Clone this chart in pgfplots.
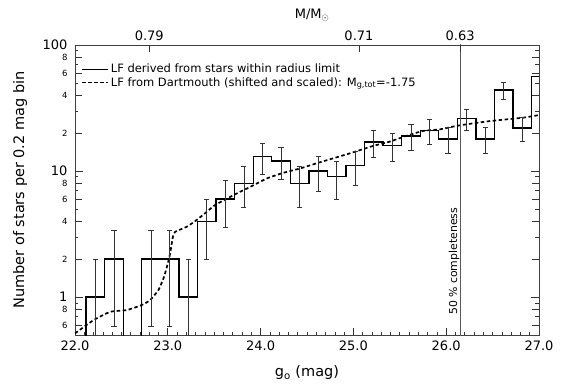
\documentclass[border=0pt]{standalone}
\usepackage{pgfplots}
\pgfplotsset{compat=1.18}
\usepackage{fontspec}
\setmainfont{DejaVu Sans}
\newcommand{\bg}{\fontsize{13}{15}\selectfont}
\newcommand{\sm}{\fontsize{8.5}{9}\selectfont}
\begin{document}
\begin{tikzpicture}
\useasboundingbox (-75pt,-54pt) rectangle (496pt,335pt);
\begin{axis}[
  at={(0,0)}, anchor=south west,
  scale only axis, width=464pt, height=290pt,
  xmin=22, xmax=27, ymin=0.5, ymax=100,
  ymode=log,
  axis line style={black!75, line width=0.8pt},
  tick align=inside,
  xtick pos=bottom,
  xtick={22,23,24,25,26,27},
  xticklabels={22.0,23.0,24.0,25.0,26.0,27.0},
  minor x tick num=9,
  major tick length=7pt, minor tick length=3.5pt,
  every tick/.style={black!80, line width=0.6pt},
  ytick={0.6,0.8,1,2,4,6,8,10,20,40,60,80,100},
  yticklabels={\sm 6,\sm 8,\bg 1,\sm 2,\sm 4,\sm 6,\sm 8,\bg 10,\sm 2,\sm 4,\sm 6,\sm 8,\bg 100},
  minor ytick={0.7,0.9,3,5,7,9,30,50,70,90},
  extra y ticks={1,10,100}, extra y tick labels={},
  extra y tick style={major tick length=8pt},
  /pgf/number format/assume math mode=true,
  tick label style={font=\bg},
  yticklabel style={xshift=-4pt},
  xticklabel style={yshift=-2pt},
  xlabel={g\textsubscript{o} (mag)},
  ylabel={Number of stars per 0.2 mag bin},
  label style={font=\fontsize{14.5}{16}\selectfont},
  xlabel style={at={(axis description cs:0.5,-0.131)}, anchor=center},
  ylabel style={at={(axis description cs:-0.1185,0.5)}, anchor=center},
  legend style={at={(0,1)}, anchor=north west, xshift=4pt, yshift=-15pt,
    draw=none, fill=none, font=\fontsize{11.5}{13}\selectfont,
    row sep=-1pt, inner sep=2pt},
  legend cell align=left,
  legend image code/.code={\draw[#1] (0pt,0pt) -- (26pt,0pt);},
]
% histogram (left bin edges)
\addplot[const plot, black, line width=1.3pt] coordinates {
(21.92,0.01) (22.12,1) (22.32,2) (22.52,0.01) (22.72,2) (22.92,2) (23.12,1)
(23.32,4) (23.52,6) (23.72,8) (23.92,13) (24.12,12) (24.32,8) (24.52,10)
(24.72,9) (24.92,11) (25.12,17) (25.32,16) (25.52,19) (25.72,21) (25.92,18)
(26.12,26) (26.32,18) (26.52,44) (26.72,22) (26.92,56) (27.12,56)
};
\addlegendentry{LF derived from stars within radius limit}
% Dartmouth LF
\addplot[black, line width=1.7pt, dash pattern=on 3.5pt off 2.5pt, smooth, tension=0.3] coordinates {
(22.0,0.515) (22.2,0.656) (22.38,0.764) (22.56,0.789) (22.72,0.865) (22.81,0.946)
(22.9,1.14) (22.96,1.45) (23.0,1.85) (23.025,2.22) (23.055,3.0) (23.08,3.3)
(23.2,3.6) (23.31,4.08) (23.42,4.75) (23.51,5.37) (23.71,6.45) (23.89,7.5)
(24.07,8.75) (24.25,9.7) (24.43,10.5) (24.6,11.5) (24.78,12.6) (24.96,13.8)
(25.21,15.8) (25.39,17.1) (25.57,19.0) (25.75,20.8) (25.93,21.4) (26.11,22.8)
(26.29,23.9) (26.47,24.9) (26.65,25.7) (26.83,26.5) (27.0,27.8)
};
\addlegendentry{LF from Dartmouth (shifted and scaled): M\textsubscript{g,tot}=-1.75}
% error bars
\addplot[draw=none, mark=none, forget plot,
  error bars/.cd, y dir=both, y explicit,
  error bar style={draw=black!80, line width=0.7pt},
  error mark=-,
  error mark options={draw=black!80, line width=0.7pt, mark size=2.6pt, rotate=90}]
  table[x=x, y=y, y error plus=ep, y error minus=em] {
x y ep em
22.22 1 1 0.999
22.42 2 1.414 1.414
22.82 2 1.414 1.414
23.02 2 1.414 1.414
23.22 1 1 0.999
23.42 4 2 2
23.62 6 2.449 2.449
23.82 8 2.828 2.828
24.02 13 3.606 3.606
24.22 12 3.464 3.464
24.42 8 2.828 2.828
24.62 10 3.162 3.162
24.82 9 3 3
25.02 11 3.317 3.317
25.22 17 4.123 4.123
25.42 16 4 4
25.62 19 4.359 4.359
25.82 21 4.583 4.583
26.02 18 4.243 4.243
26.22 26 5.099 5.099
26.42 18 4.243 4.243
26.62 44 6.633 6.633
26.82 22 4.690 4.690
};
% 50% completeness line
\addplot[black!65, line width=0.8pt, forget plot] coordinates {(26.15,0.3) (26.15,200)};
\node[rotate=90, anchor=base west, inner sep=0pt, font=\fontsize{10.9}{12}\selectfont]
  at (axis cs:26.15,0.72) [yshift=3pt] {50 \% completeness};
\end{axis}
\begin{axis}[
  at={(0,0)}, anchor=south west,
  scale only axis, width=464pt, height=290pt,
  xmin=22, xmax=27,
  axis x line*=top, axis y line=none,
  axis line style={black!75, line width=0.8pt},
  tick align=inside,
  xtick={22.8,25.06,26.15},
  xticklabels={0.79,0.71,0.63},
  major tick length=7pt,
  every tick/.style={black!80, line width=0.6pt},
  tick label style={font=\bg},
  xticklabel style={yshift=1pt},
  xlabel={M/M\textsubscript{\(\odot\)}},
  label style={font=\bg},
  xlabel style={at={(axis description cs:0.511,1.103)}, anchor=center},
]
\addplot[draw=none] coordinates {(22,0) (27,1)};
\end{axis}
\end{tikzpicture}
\end{document}
